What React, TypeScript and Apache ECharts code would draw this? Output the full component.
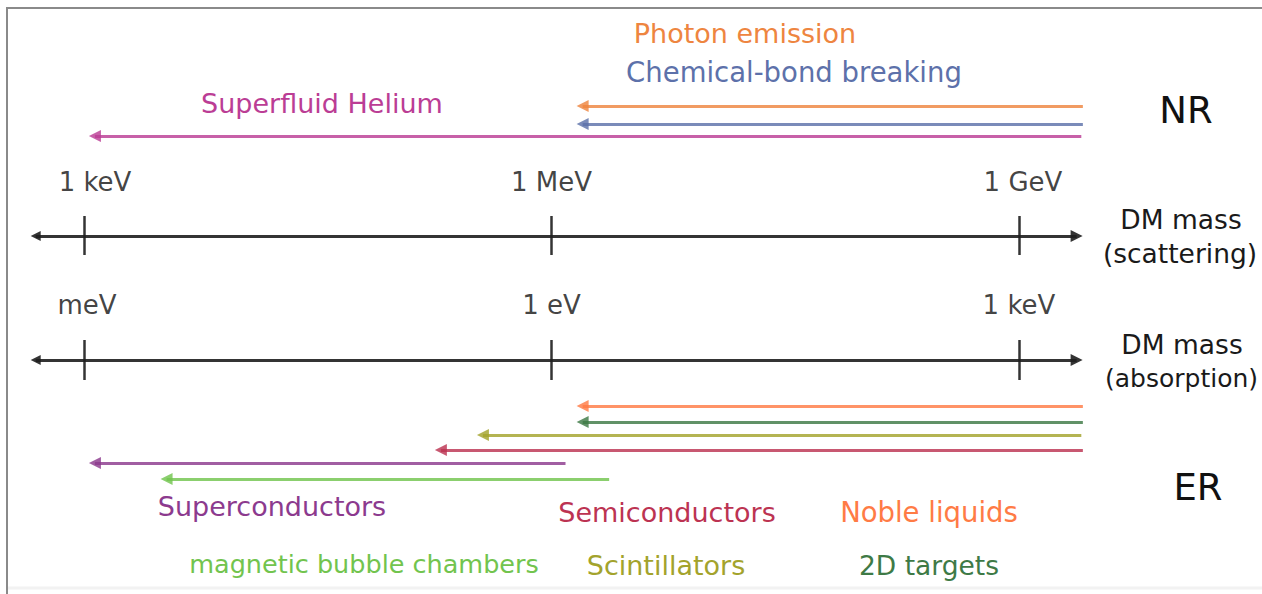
import React, { useEffect, useRef } from "react";
import * as echarts from "echarts";

// x positions are log10(DM mass / eV) on the scattering axis; absorption axis = scattering - 6
const scatterTickValues = [3, 6, 9];
const scatterTickLabels = ["1 keV", "1 MeV", "1 GeV"];
const absorbTickValues = [-3, 0, 3];
const absorbTickLabels = ["meV", "1 eV", "1 keV"];
const ABS_OFFSET = 6;
const axisLow = 2.69;
const axisHigh = 9.37;

// Nuclear recoil (NR) reach: arrow from high mass down to lowest reachable mass
const nrNames = ["Photon emission", "Chemical-bond breaking", "Superfluid Helium"];
const nrColors = ["#ee8540", "#5d71aa", "#bb3d95"];
const nrHigh = [9.41, 9.41, 9.4];
const nrLow = [6.2, 6.2, 3.07];
const nrLane = [106, 124, 136];

// Electron recoil (ER) reach
const erNames = [
  "Noble liquids",
  "2D targets",
  "Scintillators",
  "Semiconductors",
  "Superconductors",
  "magnetic bubble chambers",
];
const erColors = ["#ff7b45", "#3e7a46", "#a3a32c", "#bc3352", "#8c3a8e", "#72c44e"];
const erHigh = [9.41, 9.41, 9.4, 9.41, 6.09, 6.37];
const erLow = [6.2, 6.2, 5.56, 5.29, 3.07, 3.53];
const erLane = [406, 422, 435, 450, 463, 479];

const scatterAxisLane = 236;
const absorbAxisLane = 360;

const FONT = "'DejaVu Sans'";

export default function App() {
  const ref = useRef<HTMLDivElement>(null);
  useEffect(() => {
    if (!ref.current) return;
    const chart = echarts.init(ref.current, null, { renderer: "svg" });

    const arrowData = (names: string[], colors: string[], hi: number[], lo: number[], lane: number[]) =>
      names.map((n, i) => ({
        name: n,
        coords: [
          [hi[i], lane[i]],
          [lo[i], lane[i]],
        ],
        lineStyle: { color: colors[i], width: 3.2, opacity: 0.82 },
      }));

    const axisLines = [scatterAxisLane, absorbAxisLane].map((y) => ({
      coords: [
        [axisLow, y],
        [axisHigh, y],
      ],
    }));
    const tickLines = [
      ...scatterTickValues.map((v) => ({ coords: [[v, scatterAxisLane - 20], [v, scatterAxisLane + 19]] })),
      ...absorbTickValues.map((v) => ({ coords: [[v + ABS_OFFSET, absorbAxisLane - 20], [v + ABS_OFFSET, absorbAxisLane + 20]] })),
    ];

    const scatterLabelShift = [11, 0, 4];
    const absorbLabelShift = [3, 0, 0];
    const tickLabelData = [
      ...scatterTickValues.map((v, i) => ({
        value: [v, 182],
        name: scatterTickLabels[i],
        label: { offset: [scatterLabelShift[i], 0] },
      })),
      ...absorbTickValues.map((v, i) => ({
        value: [v + ABS_OFFSET, 305],
        name: absorbTickLabels[i],
        label: { offset: [absorbLabelShift[i], 0] },
      })),
    ];

    const txt = (text: string, x: number, y: number, color: string, size: number, align = "center") => ({
      type: "text",
      x,
      y,
      silent: true,
      style: {
        text,
        fill: color,
        font: `${size}px ${FONT}`,
        textAlign: align,
        textVerticalAlign: "middle",
      },
    });

    chart.setOption({
      animation: false,
      grid: { left: 0, right: 0, top: 0, bottom: 0 },
      xAxis: {
        type: "value",
        min: 3 - 84 / 155.83,
        max: 3 + 1178 / 155.83,
        show: false,
      },
      yAxis: { type: "value", min: 0, max: 594, inverse: true, show: false },
      series: [
        {
          type: "lines",
          coordinateSystem: "cartesian2d",
          symbol: ["none", "triangle"],
          symbolSize: [10, 12],
          data: arrowData(nrNames, nrColors, nrHigh, nrLow, nrLane),
        },
        {
          type: "lines",
          coordinateSystem: "cartesian2d",
          symbol: ["none", "triangle"],
          symbolSize: [10, 12],
          data: arrowData(erNames, erColors, erHigh, erLow, erLane),
        },
        {
          type: "lines",
          coordinateSystem: "cartesian2d",
          symbol: ["triangle", "triangle"],
          symbolSize: [10, 12],
          lineStyle: { color: "#1e1e1e", width: 3, opacity: 0.9 },
          data: axisLines,
        },
        {
          type: "lines",
          coordinateSystem: "cartesian2d",
          symbol: ["none", "none"],
          lineStyle: { color: "#1e1e1e", width: 2.5, opacity: 0.9 },
          data: tickLines,
        },
        {
          type: "scatter",
          symbolSize: 0,
          data: tickLabelData,
          label: {
            show: true,
            position: "inside",
            formatter: (p: any) => p.name,
            fontFamily: "DejaVu Sans",
            fontSize: 26,
            color: "#111",
          },
        },
      ],
      graphic: [
        { type: "line", shape: { x1: 6, y1: 8, x2: 1262, y2: 8 }, style: { stroke: "#8a8a8a", lineWidth: 2 } },
        { type: "line", shape: { x1: 7, y1: 8, x2: 7, y2: 594 }, style: { stroke: "#8a8a8a", lineWidth: 2 } },
        { type: "line", shape: { x1: 8, y1: 588, x2: 1262, y2: 588 }, style: { stroke: "#f2f2f2", lineWidth: 3 } },
        txt(nrNames[0], 745, 33, nrColors[0], 27),
        txt(nrNames[1], 794, 72, nrColors[1], 27.5),
        txt(nrNames[2], 322, 103, nrColors[2], 27),
        txt("NR", 1186, 110, "#111", 37),
        txt("DM mass", 1181, 219, "#1a1a1a", 26.5),
        txt("(scattering)", 1180, 253, "#1a1a1a", 26.5),
        txt("DM mass", 1182, 344, "#1a1a1a", 26.5),
        txt("(absorption)", 1105, 378, "#1a1a1a", 25, "left"),
        txt("ER", 1198, 487, "#111", 37),
        txt(erNames[4], 272, 506, erColors[4], 27),
        txt(erNames[3], 667, 512, erColors[3], 27),
        txt(erNames[0], 929, 512, erColors[0], 27.5),
        txt(erNames[5], 364, 564, erColors[5], 25.5),
        txt(erNames[2], 666, 565, erColors[2], 27),
        txt(erNames[1], 929, 565, erColors[1], 26.5),
      ],
    });
    return () => chart.dispose();
  }, []);
  return (
    <div
      ref={ref}
      style={{ position: "absolute", left: 0, top: 0, width: 1262, height: 594, background: "#fff" }}
    />
  );
}
